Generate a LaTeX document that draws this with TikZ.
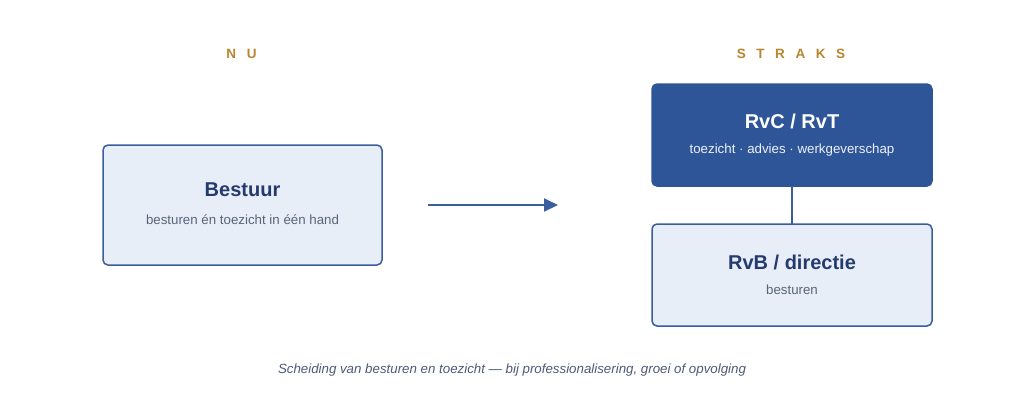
\documentclass[tikz,border=0pt]{standalone}
\usepackage{fontspec}
\setmainfont{Liberation Sans}
\newfontfamily\spacedfont[LetterSpace=78]{Liberation Sans}
\usetikzlibrary{arrows.meta}
\definecolor{darkfill}{HTML}{2E5597}
\definecolor{lightfill}{HTML}{E8EEF8}
\definecolor{edgeblue}{HTML}{3A5D9E}
\definecolor{navytext}{HTML}{253B6E}
\definecolor{greytext}{HTML}{5A6479}
\definecolor{goldtext}{HTML}{B8862E}
\definecolor{captext}{HTML}{4E5A78}
\begin{document}
\begin{tikzpicture}[x=1pt,y=-1pt,
  lightbox/.style={draw=edgeblue,line width=1.5pt,fill=lightfill,rounded corners=5pt},
  darkbox/.style={draw=darkfill,line width=1.5pt,fill=darkfill,rounded corners=5pt},
  headlabel/.style={font=\spacedfont\bfseries\fontsize{13.5}{16}\selectfont,text=goldtext},
  titlelight/.style={font=\bfseries\fontsize{20}{24}\selectfont,text=navytext},
  sublight/.style={font=\fontsize{13.3}{16}\selectfont,text=greytext},
  titledark/.style={font=\bfseries\fontsize{20}{24}\selectfont,text=white},
  subdark/.style={font=\fontsize{13.3}{16}\selectfont,text=white!92!darkfill},
  conn/.style={draw=edgeblue,line width=2pt}
]
\useasboundingbox[fill=white] (0,0) rectangle (1024,400);
\node[headlabel] (nu) at (241.5,53.5) {NU};
\node[headlabel] (straks) at (791,53.5) {STRAKS};

\draw[lightbox] (103,145) rectangle (382,265);
\node (bestuur) at (242.5,205) [minimum width=279pt,minimum height=120pt] {};
\node[titlelight] (bt) at (242.5,190) {Bestuur};
\node[sublight] (bs) at (242.5,220) {besturen én toezicht in één hand};

\draw[darkbox] (652,84) rectangle (932,186);
\node (rvc) at (792,135) [minimum width=280pt,minimum height=102pt,inner sep=0pt] {};
\node[titledark] (rvct) at (792,121) {RvC / RvT};
\node[subdark] (rvcs) at (792,150) {toezicht · advies · werkgeverschap};

\draw[lightbox] (652,224) rectangle (932,326);
\node (rvb) at (792,275) [minimum width=280pt,minimum height=102pt,inner sep=0pt] {};
\node[titlelight] (rvbt) at (792,262) {RvB / directie};
\node[sublight] (rvbs) at (792,290) {besturen};

\coordinate (as) at (428,205);
\coordinate (ae) at (558,205);
\draw[conn,-{Triangle[length=14pt,width=13pt]}] (as) -- (ae);
\draw[conn] (rvc.south) -- (rvb.north);

\node[font=\itshape\fontsize{13.3}{16}\selectfont,text=captext] (cap) at (512,370) {Scheiding van besturen en toezicht — bij professionalisering, groei of opvolging};
\end{tikzpicture}
\end{document}
